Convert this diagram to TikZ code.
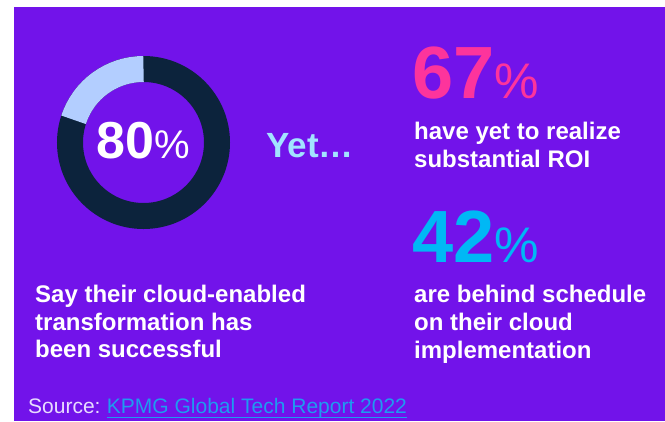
\documentclass[tikz,border=0pt]{standalone}
\usepackage{fontspec}
\setmainfont{Liberation Sans}
\definecolor{bgpurple}{HTML}{7213EA}
\definecolor{navy}{HTML}{0C233C}
\definecolor{ringlight}{HTML}{B3CEFF}
\definecolor{yetcol}{HTML}{A2E4FF}
\definecolor{pinkcol}{HTML}{FD349C}
\definecolor{cyancol}{HTML}{00B8F5}
\definecolor{srccol}{HTML}{E8DCFF}
\definecolor{linkcol}{HTML}{1E9BF0}
\tikzset{
  txt/.style={inner sep=0pt, anchor=base west, text=white, font=\fontsize{24}{28}\selectfont\bfseries},
  bignum/.style={inner sep=0pt, anchor=base west},
}
\begin{document}
\begin{tikzpicture}[x=1pt,y=-1pt]
\useasboundingbox (0,0) rectangle (665,421);
\fill[white] (0,0) rectangle (665,421);
\fill[bgpurple] (14,7) rectangle (665,421);
% donut
\coordinate (c) at (143.5,142.5);
\draw[navy, line width=26pt] (c) circle[radius=73.5];
\draw[ringlight, line width=26pt] (c) ++(-90:73.5) arc[start angle=-90, end angle=-162, radius=73.5];
\node[inner sep=0pt, anchor=base, text=white] (p80) at (143.5,158)
  {\fontsize{52}{52}\selectfont\bfseries 80\fontsize{40}{40}\selectfont\mdseries\%};
\node[inner sep=0pt, anchor=base west, text=yetcol, font=\fontsize{35}{35}\selectfont\bfseries] (yet) at (266,157) {Yet…};
% left caption
\node[txt] (l1) at (35,302) {Say their cloud-enabled};
\node[txt] (l2) at (35,330) {transformation has};
\node[txt] (l3) at (35,357) {been successful};
% 67%
\node[bignum, text=pinkcol] (p67) at (412,98)
  {\fontsize{74}{74}\selectfont\bfseries 67\fontsize{50}{50}\selectfont\mdseries\%};
\node[txt] (r1) at (414,139) {have yet to realize};
\node[txt] (r2) at (414,167) {substantial ROI};
% 42%
\node[bignum, text=cyancol] (p42) at (412,262)
  {\fontsize{74}{74}\selectfont\bfseries 42\fontsize{50}{50}\selectfont\mdseries\%};
\node[txt] (r3) at (414,302) {are behind schedule};
\node[txt] (r4) at (414,330) {on their cloud};
\node[txt] (r5) at (414,358) {implementation};
% source
\node[inner sep=0pt, anchor=base west, text=srccol, font=\fontsize{21}{21}\selectfont] (src) at (28,413) {Source:};
\node[inner sep=0pt, anchor=base west, text=linkcol, font=\fontsize{21}{21}\selectfont] (lnk) at ([xshift=6pt]src.base east) {KPMG Global Tech Report 2022};
\draw[linkcol, line width=1pt] ([yshift=-4pt]lnk.base west) -- ([yshift=-4pt]lnk.base east);
\end{tikzpicture}
\end{document}
